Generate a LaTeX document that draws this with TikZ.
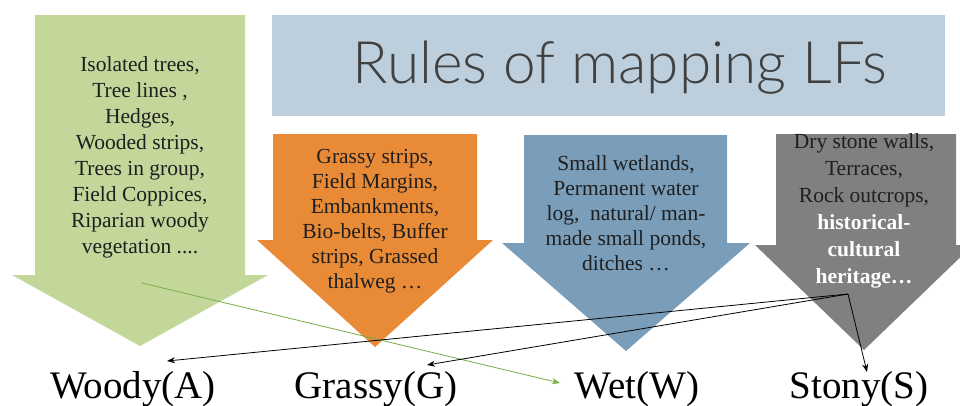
\documentclass[tikz,border=0pt]{standalone}
\usepackage{fontspec}
\setmainfont{Liberation Serif}
\newfontfamily\titlefont{Lato Light}
\usetikzlibrary{arrows.meta}
\definecolor{woodyc}{RGB}{196,215,155}
\definecolor{grassc}{RGB}{233,139,54}
\definecolor{wetc}{RGB}{122,158,185}
\definecolor{stonyc}{RGB}{128,128,128}
\definecolor{titlec}{RGB}{189,207,220}
\definecolor{titletext}{RGB}{64,64,64}
\definecolor{linkg}{RGB}{118,172,66}
\begin{document}
\begin{tikzpicture}[x=1pt,y=-1pt,
  itemtext/.style={align=center, text=black!88, inner sep=0pt},
  catlabel/.style={font=\fontsize{39}{44}\selectfont, anchor=base, inner sep=0pt},
  link/.style={draw=black, line width=0.8pt, -{Stealth[length=8pt,width=6pt]}},
  greenlink/.style={draw=linkg, line width=0.8pt, -{Stealth[length=8pt,width=6pt]}}]
\useasboundingbox (0,0) rectangle (960,405);
\clip (0,0) rectangle (960,405);

% title box
\node (titlebox) [fill=titlec, minimum width=673pt, minimum height=101pt, inner sep=0pt] at (608.5,65.5) {};
\node (title) [anchor=base, inner sep=0pt, text=titletext, font=\titlefont\fontsize{58.5}{62}\selectfont] at (620,83) {Rules of mapping LFs};

% block arrows
\fill[woodyc] (35,15) -- (245,15) -- (245,275) -- (268,275) -- (140,346) -- (12,275) -- (35,275) -- cycle;
\fill[grassc] (273,134) -- (477,134) -- (477,240) -- (493,240) -- (375,347) -- (257,240) -- (273,240) -- cycle;
\fill[wetc] (524,135) -- (727,135) -- (727,243) -- (750,243) -- (626,351) -- (502,243) -- (524,243) -- cycle;
\fill[stonyc] (776,134) -- (956,134) -- (956,245) -- (973,245) -- (864,350) -- (755,245) -- (776,245) -- cycle;

% arrow texts
\node (woodytxt) [itemtext, font=\fontsize{21.5}{26}\selectfont] at (140,157)
  {Isolated trees,\\ Tree lines ,\\ Hedges,\\ Wooded strips,\\ Trees in group,\\ Field Coppices,\\ Riparian woody\\ vegetation ....};
\node (grasstxt) [itemtext, font=\fontsize{21.5}{25}\selectfont] at (375,221)
  {Grassy strips,\\ Field Margins,\\ Embankments,\\ Bio-belts, Buffer\\ strips, Grassed\\ thalweg …};
\node (wettxt) [itemtext, font=\fontsize{21.5}{25}\selectfont] at (626,213)
  {Small wetlands,\\ Permanent water\\ log,\ \ natural/ man-\\ made small ponds,\\ ditches …};
\node (stonytxt) [itemtext, font=\fontsize{21.5}{27}\selectfont] at (864,211)
  {Dry stone walls,\\ Terraces,\\ Rock outcrops,\\ \textbf{\textcolor{white}{historical-}}\\ \textbf{\textcolor{white}{cultural}}\\ \textbf{\textcolor{white}{heritage…}}};

% category labels
\node (woody) [catlabel] at (133,398) {Woody(A)};
\node (grassy) [catlabel] at (376,398) {Grassy(G)};
\node (wet) [catlabel] at (637,398) {Wet(W)};
\node (stony) [catlabel] at (859,398) {Stony(S)};

% connector ends
\coordinate (gfrom) at (142,283);
\coordinate (sfrom) at (848,294);
\coordinate (toA) at (167,361);
\coordinate (toG) at (427,365);
\coordinate (toW) at (560,383);
\coordinate (toS) at (867,372);

\draw[greenlink] (gfrom) -- (toW);
\draw[link] (sfrom) -- (toA);
\draw[link] (sfrom) -- (toG);
\draw[link] (sfrom) -- (toS);
\end{tikzpicture}
\end{document}
